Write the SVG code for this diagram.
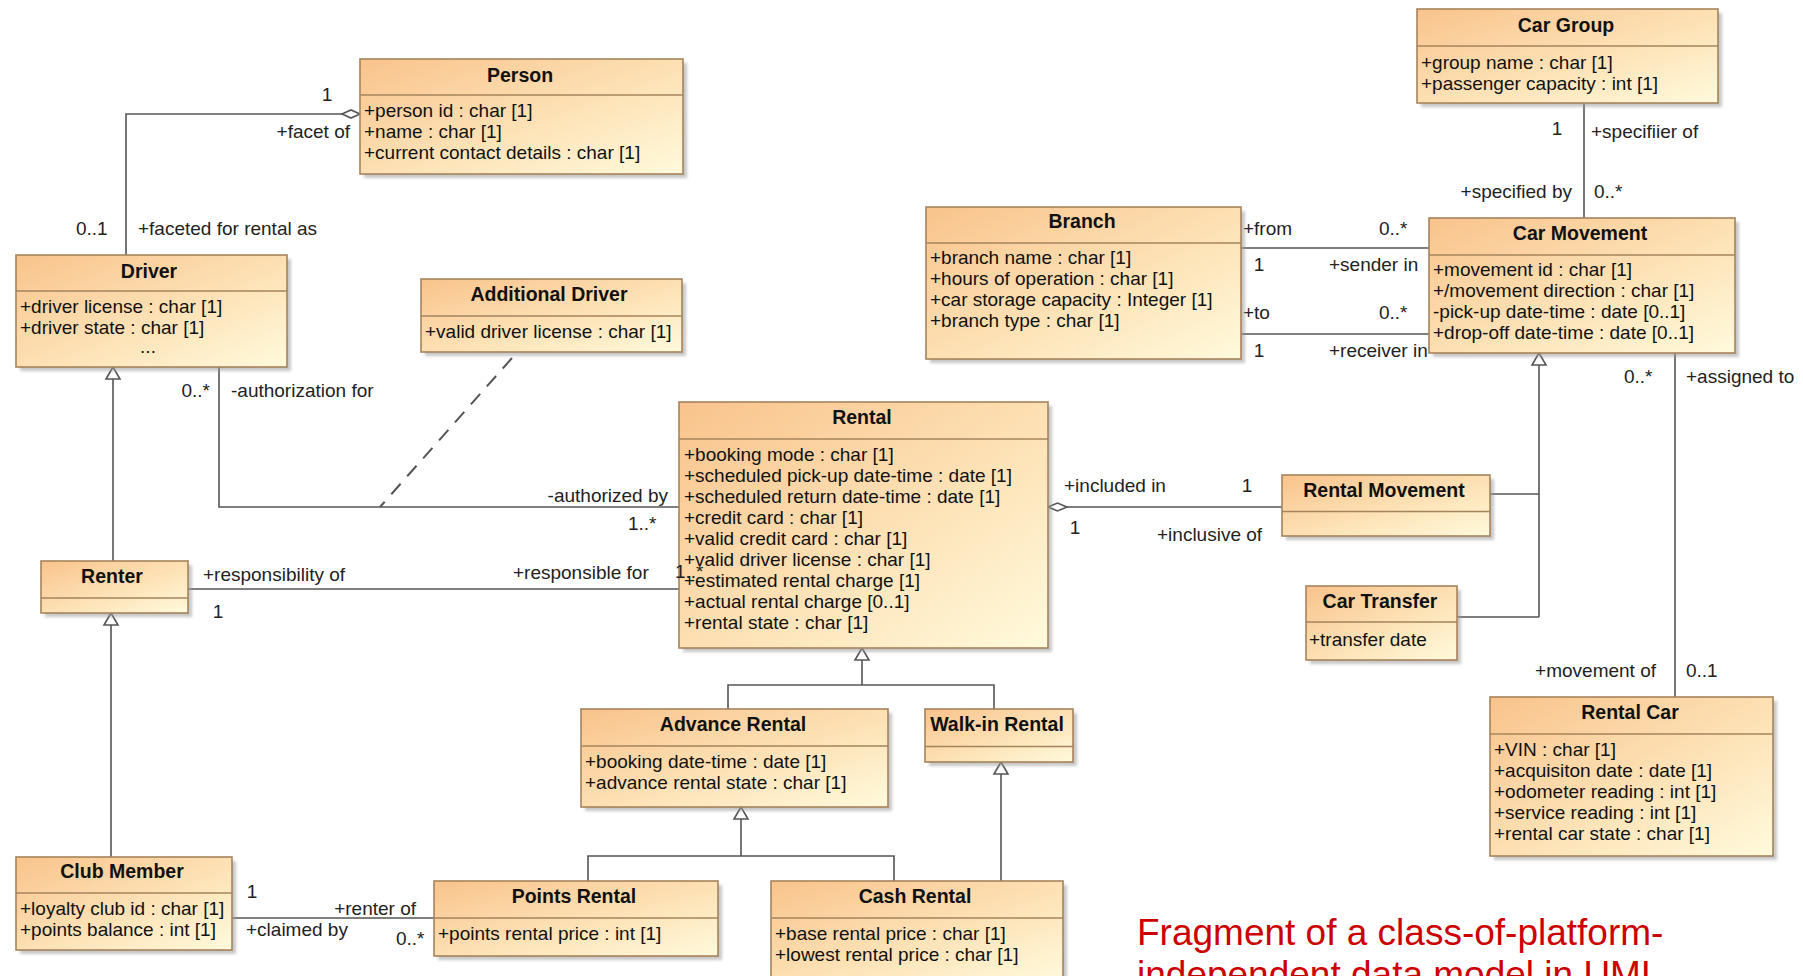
<svg xmlns="http://www.w3.org/2000/svg" width="1803" height="976" viewBox="0 0 1803 976">
<defs>
<linearGradient id="g" x1="0" y1="0" x2="1" y2="1">
<stop offset="0" stop-color="#F9C38C"/>
<stop offset="0.55" stop-color="#FDE2B6"/>
<stop offset="1" stop-color="#FFFADC"/>
</linearGradient>
<filter id="blur" x="-5%" y="-5%" width="110%" height="110%"><feGaussianBlur stdDeviation="1.5"/></filter>
<style>
.sh{fill:#9a9a9a;opacity:.55;filter:url(#blur)}
.bx{fill:url(#g);stroke:#A5845C;stroke-width:1.6}
.dv{stroke:#A5845C;stroke-width:1.6}
.t{font-family:"Liberation Sans",Arial,sans-serif;font-size:19.5px;font-weight:bold;fill:#111;text-anchor:middle}
.a{font-family:"Liberation Sans",Arial,sans-serif;font-size:19px;fill:#111}
.l{font-family:"Liberation Sans",Arial,sans-serif;font-size:19px;fill:#222}
.e{text-anchor:end}
.m{text-anchor:middle}
.c{fill:none;stroke:#555;stroke-width:1.6}
.d{fill:none;stroke:#555;stroke-width:2;stroke-dasharray:14 10}
.tri{fill:#fff;stroke:#555;stroke-width:1.6}
.dia{fill:#fff;stroke:#555;stroke-width:1.6}
.red{font-family:"Liberation Sans",Arial,sans-serif;font-size:37px;fill:#CC0000}
</style>
</defs>
<rect width="1803" height="976" fill="#fff"/>

<g id="connectors">
<path class="c" d="M342,114 H126 V255"/>
<polygon class="dia" points="360,114 351,110 342,114 351,118"/>
<path class="c" d="M219,367 V507 H679"/>
<path class="d" d="M512,358 L380,507"/>
<path class="c" d="M188,589 H679"/>
<path class="c" d="M113,561 V379"/>
<polygon class="tri" points="113,367 106,379 120,379"/>
<path class="c" d="M111,857 V625"/>
<polygon class="tri" points="111,613 104,625 118,625"/>
<path class="c" d="M232,918 H434"/>
<path class="c" d="M1067,507 H1282"/>
<polygon class="dia" points="1048,507 1057.5,503 1067,507 1057.5,511"/>
<path class="c" d="M862,660 V685 M728,709 V685 H994 V709"/>
<polygon class="tri" points="862,648 855,660 869,660"/>
<path class="c" d="M741,819 V856 M588,881 V856 H894 V881"/>
<polygon class="tri" points="741,807 734,819 748,819"/>
<path class="c" d="M1001,774 V881"/>
<polygon class="tri" points="1001,762 994,774 1008,774"/>
<path class="c" d="M1539,365 V617 M1490,494 H1539 M1457,617 H1539"/>
<polygon class="tri" points="1539,353 1532,365 1546,365"/>
<path class="c" d="M1584,103 V218"/>
<path class="c" d="M1241,248 H1429 M1241,334 H1429"/>
<path class="c" d="M1675,353 V697"/>
</g>

<g id="labels">
<text class="l m" x="327" y="101">1</text>
<text class="l e" x="350" y="138">+facet of</text>
<text class="l" x="76" y="235">0..1</text>
<text class="l" x="138" y="235">+faceted for rental as</text>
<text class="l e" x="210" y="397">0..*</text>
<text class="l" x="231" y="397">-authorization for</text>
<text class="l e" x="668" y="502">-authorized by</text>
<text class="l" x="628" y="530">1..*</text>
<text class="l" x="203" y="581">+responsibility of</text>
<text class="l m" x="218" y="618">1</text>
<text class="l" x="513" y="579">+responsible for</text>
<text class="l" x="1064" y="492">+included in</text>
<text class="l m" x="1247" y="492">1</text>
<text class="l m" x="1075" y="534">1</text>
<text class="l" x="1157" y="541">+inclusive of</text>
<text class="l m" x="1557" y="135">1</text>
<text class="l" x="1591" y="138">+specifiier of</text>
<text class="l e" x="1572" y="198">+specified by</text>
<text class="l" x="1594" y="198">0..*</text>
<text class="l" x="1243" y="235">+from</text>
<text class="l" x="1379" y="235">0..*</text>
<text class="l m" x="1259" y="271">1</text>
<text class="l" x="1329" y="271">+sender in</text>
<text class="l" x="1243" y="319">+to</text>
<text class="l" x="1379" y="319">0..*</text>
<text class="l m" x="1259" y="357">1</text>
<text class="l" x="1329" y="357">+receiver in</text>
<text class="l" x="1624" y="383">0..*</text>
<text class="l" x="1686" y="383">+assigned to</text>
<text class="l e" x="1656" y="677">+movement of</text>
<text class="l" x="1686" y="677">0..1</text>
<text class="l m" x="252" y="898">1</text>
<text class="l e" x="416" y="915">+renter of</text>
<text class="l" x="246" y="936">+claimed by</text>
<text class="l" x="396" y="945">0..*</text>
</g>

<g id="person">
<rect class="sh" x="364" y="63" width="323" height="115"/>
<rect class="bx" x="360" y="59" width="323" height="115"/>
<line class="dv" x1="360" y1="95" x2="683" y2="95"/>
<text class="t" x="520" y="82">Person</text>
<text class="a" x="364" y="117">+person id : char [1]</text>
<text class="a" x="364" y="138">+name : char [1]</text>
<text class="a" x="364" y="159">+current contact details : char [1]</text>
</g>

<g id="driver">
<rect class="sh" x="20" y="259" width="271" height="112"/>
<rect class="bx" x="16" y="255" width="271" height="112"/>
<line class="dv" x1="16" y1="291" x2="287" y2="291"/>
<text class="t" x="149" y="278">Driver</text>
<text class="a" x="20" y="313">+driver license : char [1]</text>
<text class="a" x="20" y="334">+driver state : char [1]</text>
<text class="a m" x="148" y="353">...</text>
</g>

<g id="additional-driver">
<rect class="sh" x="425" y="283" width="261" height="73"/>
<rect class="bx" x="421" y="279" width="261" height="73"/>
<line class="dv" x1="421" y1="316" x2="682" y2="316"/>
<text class="t" x="549" y="301">Additional Driver</text>
<text class="a" x="425" y="338">+valid driver license : char [1]</text>
</g>

<g id="rental">
<rect class="sh" x="683" y="406" width="369" height="246"/>
<rect class="bx" x="679" y="402" width="369" height="246"/>
<line class="dv" x1="679" y1="439" x2="1048" y2="439"/>
<text class="t" x="862" y="424">Rental</text>
<text class="a" x="684" y="461">+booking mode : char [1]</text>
<text class="a" x="684" y="482">+scheduled pick-up date-time : date [1]</text>
<text class="a" x="684" y="503">+scheduled return date-time : date [1]</text>
<text class="a" x="684" y="524">+credit card : char [1]</text>
<text class="a" x="684" y="545">+valid credit card : char [1]</text>
<text class="a" x="684" y="566">+valid driver license : char [1]</text>
<text class="a" x="684" y="587">+estimated rental charge [1]</text>
<text class="a" x="684" y="608">+actual rental charge [0..1]</text>
<text class="a" x="684" y="629">+rental state : char [1]</text>
</g>

<g id="car-group">
<rect class="sh" x="1421" y="13" width="301" height="94"/>
<rect class="bx" x="1417" y="9" width="301" height="94"/>
<line class="dv" x1="1417" y1="46" x2="1718" y2="46"/>
<text class="t" x="1566" y="32">Car Group</text>
<text class="a" x="1421" y="69">+group name : char [1]</text>
<text class="a" x="1421" y="90">+passenger capacity : int [1]</text>
</g>

<g id="branch">
<rect class="sh" x="930" y="211" width="315" height="152"/>
<rect class="bx" x="926" y="207" width="315" height="152"/>
<line class="dv" x1="926" y1="243" x2="1241" y2="243"/>
<text class="t" x="1082" y="228">Branch</text>
<text class="a" x="930" y="264">+branch name : char [1]</text>
<text class="a" x="930" y="285">+hours of operation : char [1]</text>
<text class="a" x="930" y="306">+car storage capacity : Integer [1]</text>
<text class="a" x="930" y="327">+branch type : char [1]</text>
</g>

<g id="car-movement">
<rect class="sh" x="1433" y="222" width="306" height="135"/>
<rect class="bx" x="1429" y="218" width="306" height="135"/>
<line class="dv" x1="1429" y1="255" x2="1735" y2="255"/>
<text class="t" x="1580" y="240">Car Movement</text>
<text class="a" x="1433" y="276">+movement id : char [1]</text>
<text class="a" x="1433" y="297">+/movement direction : char [1]</text>
<text class="a" x="1433" y="318">-pick-up date-time : date [0..1]</text>
<text class="a" x="1433" y="339">+drop-off date-time : date [0..1]</text>
</g>

<g id="rental-movement">
<rect class="sh" x="1286" y="479" width="208" height="61"/>
<rect class="bx" x="1282" y="475" width="208" height="61"/>
<line class="dv" x1="1282" y1="511.5" x2="1490" y2="511.5"/>
<text class="t" x="1384" y="497">Rental Movement</text>
</g>

<g id="car-transfer">
<rect class="sh" x="1310" y="590" width="151" height="74"/>
<rect class="bx" x="1306" y="586" width="151" height="74"/>
<line class="dv" x1="1306" y1="622" x2="1457" y2="622"/>
<text class="t" x="1380" y="608">Car Transfer</text>
<text class="a" x="1309" y="646">+transfer date</text>
</g>

<g id="rental-car">
<rect class="sh" x="1494" y="701" width="283" height="159"/>
<rect class="bx" x="1490" y="697" width="283" height="159"/>
<line class="dv" x1="1490" y1="734" x2="1773" y2="734"/>
<text class="t" x="1630" y="719">Rental Car</text>
<text class="a" x="1494" y="756">+VIN : char [1]</text>
<text class="a" x="1494" y="777">+acquisiton date : date [1]</text>
<text class="a" x="1494" y="798">+odometer reading : int [1]</text>
<text class="a" x="1494" y="819">+service reading : int [1]</text>
<text class="a" x="1494" y="840">+rental car state : char [1]</text>
</g>

<g id="renter">
<rect class="sh" x="45" y="565" width="147" height="52"/>
<rect class="bx" x="41" y="561" width="147" height="52"/>
<line class="dv" x1="41" y1="598" x2="188" y2="598"/>
<text class="t" x="112" y="583">Renter</text>
</g>

<g id="club-member">
<rect class="sh" x="20" y="861" width="216" height="93"/>
<rect class="bx" x="16" y="857" width="216" height="93"/>
<line class="dv" x1="16" y1="893" x2="232" y2="893"/>
<text class="t" x="122" y="878">Club Member</text>
<text class="a" x="20" y="915">+loyalty club id : char [1]</text>
<text class="a" x="20" y="936">+points balance : int [1]</text>
</g>

<g id="advance-rental">
<rect class="sh" x="585" y="713" width="307" height="98"/>
<rect class="bx" x="581" y="709" width="307" height="98"/>
<line class="dv" x1="581" y1="746" x2="888" y2="746"/>
<text class="t" x="733" y="731">Advance Rental</text>
<text class="a" x="585" y="768">+booking date-time : date [1]</text>
<text class="a" x="585" y="789">+advance rental state : char [1]</text>
</g>

<g id="walk-in-rental">
<rect class="sh" x="929" y="713" width="148" height="53"/>
<rect class="bx" x="925" y="709" width="148" height="53"/>
<line class="dv" x1="925" y1="746.5" x2="1073" y2="746.5"/>
<text class="t" x="997" y="731">Walk-in Rental</text>
</g>

<g id="points-rental">
<rect class="sh" x="438" y="885" width="284" height="75"/>
<rect class="bx" x="434" y="881" width="284" height="75"/>
<line class="dv" x1="434" y1="918" x2="718" y2="918"/>
<text class="t" x="574" y="903">Points Rental</text>
<text class="a" x="438" y="940">+points rental price : int [1]</text>
</g>

<g id="cash-rental">
<rect class="sh" x="775" y="885" width="292" height="100"/>
<rect class="bx" x="771" y="881" width="292" height="100"/>
<line class="dv" x1="771" y1="918" x2="1063" y2="918"/>
<text class="t" x="915" y="903">Cash Rental</text>
<text class="a" x="775" y="940">+base rental price : char [1]</text>
<text class="a" x="775" y="961">+lowest rental price : char [1]</text>
</g>

<g id="label-over">
<text class="l" x="675" y="578">1..*</text>
</g>

<g id="caption">
<text class="red" x="1137" y="945">Fragment of a class-of-platform-</text>
<text class="red" x="1137" y="987">independent data model in UML</text>
</g>
</svg>
